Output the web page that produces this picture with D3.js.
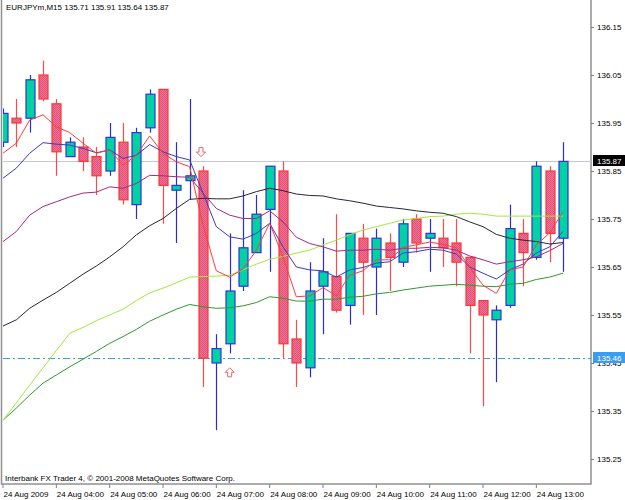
<!DOCTYPE html>
<html lang="en">
<head>
  <meta charset="UTF-8">
  <title>EURJPYm,M15</title>
  <script src="https://d3js.org/d3.v7.min.js"></script>
  <style>
    body {
      margin: 0;
      background: #ffffff;
    }

    svg {
      display: block;
      font-family: "Liberation Sans", Arial, sans-serif;
      font-size: 8px;
    }

    .axis path, .axis line {
      stroke: #808080;
    }

    .axis text {
      fill: #000000;
      font-size: 8px;
    }

    .ma {
      fill: none;
      stroke-width: 1px;
    }
  </style>
</head>
<body>

  <svg id="chart" width="625" height="500"></svg>

  <script>
    // M15 bars, 03:00 .. 13:30
    const open  = [135.91, 135.96, 135.96, 136.05, 135.99, 135.88, 135.90, 135.88, 135.85, 135.91,
                   135.78, 135.94, 136.02, 135.81, 135.83, 135.85, 135.45, 135.49, 135.61, 135.68,
                   135.77, 135.85, 135.50, 135.44, 135.61, 135.63, 135.57, 135.71, 135.65, 135.70,
                   135.66, 135.75, 135.71, 135.71, 135.70, 135.67, 135.58, 135.54, 135.57, 135.72,
                   135.67, 135.85, 135.71];
    const high  = [135.98, 136.00, 136.05, 136.08, 136.00, 135.92, 135.92, 135.90, 135.95, 135.95,
                   135.94, 136.02, 136.02, 135.91, 136.00, 135.86, 135.51, 135.72, 135.81, 135.80,
                   135.86, 135.87, 135.54, 135.66, 135.71, 135.76, 135.72, 135.74, 135.73, 135.72,
                   135.75, 135.76, 135.75, 135.75, 135.75, 135.67, 135.58, 135.57, 135.78, 135.75,
                   135.87, 135.86, 135.91];
    const low   = [135.90, 135.90, 135.93, 135.995, 135.84, 135.88, 135.85, 135.80, 135.84, 135.78,
                   135.75, 135.93, 135.74, 135.70, 135.79, 135.40, 135.31, 135.47, 135.60, 135.68,
                   135.64, 135.46, 135.40, 135.42, 135.51, 135.555, 135.53, 135.55, 135.55, 135.60,
                   135.65, 135.68, 135.64, 135.65, 135.61, 135.47, 135.36, 135.41, 135.565, 135.61,
                   135.665, 135.66, 135.64];
    const close = [135.97, 135.95, 136.04, 136.00, 135.89, 135.91, 135.87, 135.84, 135.92, 135.79,
                   135.93, 136.01, 135.82, 135.82, 135.84, 135.46, 135.48, 135.60, 135.69, 135.76,
                   135.86, 135.49, 135.45, 135.60, 135.64, 135.56, 135.72, 135.66, 135.71, 135.67,
                   135.74, 135.70, 135.72, 135.69, 135.66, 135.57, 135.55, 135.56, 135.73, 135.68,
                   135.86, 135.72, 135.87];

    // moving averages
    const maRed = [135.887, 135.908, 135.956, 135.967, 135.942, 135.930, 135.908, 135.887, 135.894, 135.862,
                   135.883, 135.923, 135.887, 135.869, 135.859, 135.737, 135.642, 135.629, 135.646, 135.685,
                   135.741, 135.671, 135.588, 135.590, 135.607, 135.590, 135.633, 135.642, 135.665, 135.665,
                   135.691, 135.696, 135.702, 135.697, 135.690, 135.649, 135.612, 135.595, 135.644, 135.650,
                   135.696, 135.721, 135.765];
    const maBlue = [135.835, 135.856, 135.887, 135.909, 135.906, 135.904, 135.897, 135.888, 135.894, 135.876,
                    135.883, 135.905, 135.890, 135.880, 135.873, 135.804, 135.734, 135.713, 135.708, 135.720,
                    135.741, 135.692, 135.650, 135.644, 135.642, 135.629, 135.644, 135.649, 135.658, 135.661,
                    135.679, 135.682, 135.687, 135.685, 135.677, 135.650, 135.637, 135.625, 135.644, 135.656,
                    135.679, 135.692, 135.724];
    const maPurple = [135.703, 135.724, 135.758, 135.776, 135.786, 135.796, 135.804, 135.806, 135.817, 135.814,
                      135.824, 135.841, 135.840, 135.838, 135.837, 135.804, 135.772, 135.758, 135.751, 135.751,
                      135.767, 135.744, 135.712, 135.699, 135.692, 135.683, 135.685, 135.685, 135.687, 135.685,
                      135.689, 135.689, 135.691, 135.690, 135.685, 135.673, 135.665, 135.656, 135.661, 135.665,
                      135.671, 135.684, 135.699];
    const maBlack = [135.527, 135.540, 135.564, 135.581, 135.597, 135.616, 135.635, 135.652, 135.671, 135.692,
                     135.717, 135.736, 135.751, 135.772, 135.791, 135.793, 135.792, 135.792, 135.798, 135.807,
                     135.814, 135.809, 135.802, 135.799, 135.798, 135.792, 135.788, 135.783, 135.777, 135.774,
                     135.771, 135.767, 135.764, 135.762, 135.755, 135.744, 135.734, 135.718, 135.710, 135.706,
                     135.703, 135.698, 135.701];
    const maLime = [135.331, 135.367, 135.404, 135.440, 135.476, 135.512, 135.524, 135.538, 135.550, 135.562,
                    135.580, 135.596, 135.606, 135.617, 135.629, 135.630, 135.631, 135.633, 135.644, 135.656,
                    135.666, 135.672, 135.679, 135.685, 135.696, 135.706, 135.717, 135.727, 135.734, 135.741,
                    135.748, 135.751, 135.755, 135.756, 135.760, 135.762, 135.760, 135.756, 135.756, 135.756,
                    135.756, 135.756, 135.756];
    const maGreen = [135.331, 135.356, 135.383, 135.408, 135.425, 135.442, 135.458, 135.474, 135.491, 135.505,
                     135.520, 135.537, 135.550, 135.562, 135.572, 135.567, 135.564, 135.565, 135.569, 135.576,
                     135.588, 135.585, 135.579, 135.579, 135.583, 135.583, 135.587, 135.589, 135.594, 135.597,
                     135.602, 135.606, 135.610, 135.612, 135.614, 135.612, 135.610, 135.609, 135.614, 135.616,
                     135.624, 135.629, 135.637];

    const priceTicks = [135.25, 135.35, 135.45, 135.55, 135.65, 135.75, 135.85, 135.95, 136.05, 136.15];
    const timeTickBars = [0, 4, 8, 12, 16, 20, 24, 28, 32, 36, 40];
    const timeTickLabels = ["24 Aug 2009", "24 Aug 04:00", "24 Aug 05:00", "24 Aug 06:00", "24 Aug 07:00",
                            "24 Aug 08:00", "24 Aug 09:00", "24 Aug 10:00", "24 Aug 11:00", "24 Aug 12:00",
                            "24 Aug 13:00"];

    const bidPrice = 135.87;
    const levelPrice = 135.46;
    const arrowsDown = [{ bar: 15, price: 135.88 }];
    const arrowsUp = [{ bar: 17, price: 135.44 }];

    const svg = d3.select("#chart");
    const frame = { left: 3, right: 591, top: 0, bottom: 484 };

    const x = d3.scaleLinear().domain([0, 42]).range([3, 563]);
    const y = d3.scaleLinear().domain([135.25, 136.15]).range([459, 27]);
    const bodyW = 9;

    // hatch for bearish bodies
    const defs = svg.append("defs");
    const pat = defs.append("pattern")
      .attr("id", "bear")
      .attr("width", 2).attr("height", 2)
      .attr("patternUnits", "userSpaceOnUse");
    pat.append("rect").attr("width", 2).attr("height", 2).attr("fill", "#f27494");
    pat.append("rect").attr("width", 1).attr("height", 1).attr("fill", "#dc527c");
    pat.append("rect").attr("x", 1).attr("y", 1).attr("width", 1).attr("height", 1).attr("fill", "#dc527c");

    defs.append("clipPath").attr("id", "plotClip")
      .append("rect")
      .attr("x", frame.left).attr("y", frame.top)
      .attr("width", frame.right - frame.left).attr("height", frame.bottom - frame.top);

    // frame
    svg.append("rect")
      .attr("x", frame.left - 1.5).attr("y", frame.top - 1)
      .attr("width", frame.right - frame.left + 1.5).attr("height", frame.bottom - frame.top + 1)
      .attr("fill", "none")
      .attr("stroke", "#909090")
      .attr("stroke-width", 1.5);

    const plot = svg.append("g").attr("clip-path", "url(#plotClip)");

    // price level lines
    plot.append("line")
      .attr("x1", frame.left).attr("x2", frame.right)
      .attr("y1", Math.round(y(bidPrice)) + 0.5).attr("y2", Math.round(y(bidPrice)) + 0.5)
      .attr("stroke", "#c4c8d4");

    plot.append("line")
      .attr("x1", frame.left).attr("x2", frame.right)
      .attr("y1", Math.round(y(levelPrice)) + 0.5).attr("y2", Math.round(y(levelPrice)) + 0.5)
      .attr("stroke", "#3b9cf0")
      .attr("stroke-dasharray", "7,3,2,3");

    // candles
    const bars = d3.range(open.length);
    const candle = plot.selectAll(".candle")
      .data(bars)
      .enter().append("g")
      .attr("class", "candle");

    candle.append("line")
      .attr("x1", i => Math.round(x(i)) + 0.5)
      .attr("x2", i => Math.round(x(i)) + 0.5)
      .attr("y1", i => y(high[i]))
      .attr("y2", i => y(low[i]))
      .attr("stroke", i => close[i] >= open[i] ? "#2a2ae0" : "#ff4848")
      .attr("stroke-width", 1.2);

    candle.append("rect")
      .attr("x", i => Math.round(x(i)) + 0.5 - bodyW / 2)
      .attr("y", i => y(Math.max(open[i], close[i])))
      .attr("width", bodyW)
      .attr("height", i => Math.max(1, Math.abs(y(open[i]) - y(close[i]))))
      .attr("fill", i => close[i] >= open[i] ? "#00d2a0" : "url(#bear)")
      .attr("stroke", i => close[i] >= open[i] ? "#3030e8" : "#ff3434")
      .attr("stroke-width", 1.2);

    // moving averages
    const maLine = d3.line()
      .x((d, i) => x(i))
      .y(d => y(d));

    const mas = [
      { values: maGreen, color: "#2f9a2f" },
      { values: maLime, color: "#a2e83c" },
      { values: maBlack, color: "#262636" },
      { values: maPurple, color: "#a02c7c" },
      { values: maBlue, color: "#3a3ac8" },
      { values: maRed, color: "#ff3c3c" }
    ];

    plot.selectAll(".ma")
      .data(mas)
      .enter().append("path")
      .attr("class", "ma")
      .attr("d", d => maLine(d.values))
      .attr("stroke", d => d.color);

    // hollow block arrows (pointing down by default, tip at 0,0)
    const arrowPath = "M0,0 L-4.5,-4.5 L-2,-4.5 L-2,-9 L2,-9 L2,-4.5 L4.5,-4.5 Z";

    plot.selectAll(".arrDown")
      .data(arrowsDown)
      .enter().append("path")
      .attr("d", arrowPath)
      .attr("transform", d => `translate(${x(d.bar) - 2},${y(d.price)})`)
      .attr("fill", "#ffffff")
      .attr("stroke", "#f06464")
      .attr("stroke-width", 1);

    plot.selectAll(".arrUp")
      .data(arrowsUp)
      .enter().append("path")
      .attr("d", arrowPath)
      .attr("transform", d => `translate(${x(d.bar)},${y(d.price)}) rotate(180)`)
      .attr("fill", "#ffffff")
      .attr("stroke", "#f06464")
      .attr("stroke-width", 1);

    // right price axis
    svg.append("g")
      .attr("class", "axis")
      .attr("transform", `translate(${frame.right},0)`)
      .call(d3.axisRight(y)
        .tickValues(priceTicks)
        .tickFormat(d3.format(".2f"))
        .tickSize(3)
        .tickPadding(3))
      .call(g => g.select(".domain").remove());

    // price tags
    const tags = [
      { price: bidPrice, bg: "#000000" },
      { price: levelPrice, bg: "#3b9cf0" }
    ];
    const tag = svg.selectAll(".tag")
      .data(tags)
      .enter().append("g")
      .attr("transform", d => `translate(${frame.right + 2},${Math.round(y(d.price))})`);
    tag.append("rect")
      .attr("x", 0).attr("y", -6)
      .attr("width", 32).attr("height", 11)
      .attr("fill", d => d.bg);
    tag.append("text")
      .attr("x", 4).attr("y", 2.5)
      .attr("fill", "#ffffff")
      .text(d => d.price.toFixed(2));

    // time axis
    svg.append("g")
      .attr("class", "axis")
      .attr("transform", `translate(0,${frame.bottom})`)
      .call(d3.axisBottom(x)
        .tickValues(timeTickBars)
        .tickFormat((d, i) => timeTickLabels[i])
        .tickSize(4)
        .tickPadding(3))
      .call(g => g.select(".domain").remove())
      .call(g => g.selectAll(".tick line").attr("transform", "translate(-0.5,0)"))
      .call(g => g.selectAll(".tick text").attr("text-anchor", "start").attr("x", 0));

    // header and footer text
    const last = open.length - 1;
    svg.append("text")
      .attr("x", 6).attr("y", 10)
      .text(`EURJPYm,M15  ${open[last].toFixed(2)} ${high[last].toFixed(2)} ${low[last].toFixed(2)} ${close[last].toFixed(2)}`);

    svg.append("text")
      .attr("x", 5).attr("y", 481)
      .text("Interbank FX Trader 4, \u00A9 2001-2008 MetaQuotes Software Corp.");
  </script>

</body>
</html>
